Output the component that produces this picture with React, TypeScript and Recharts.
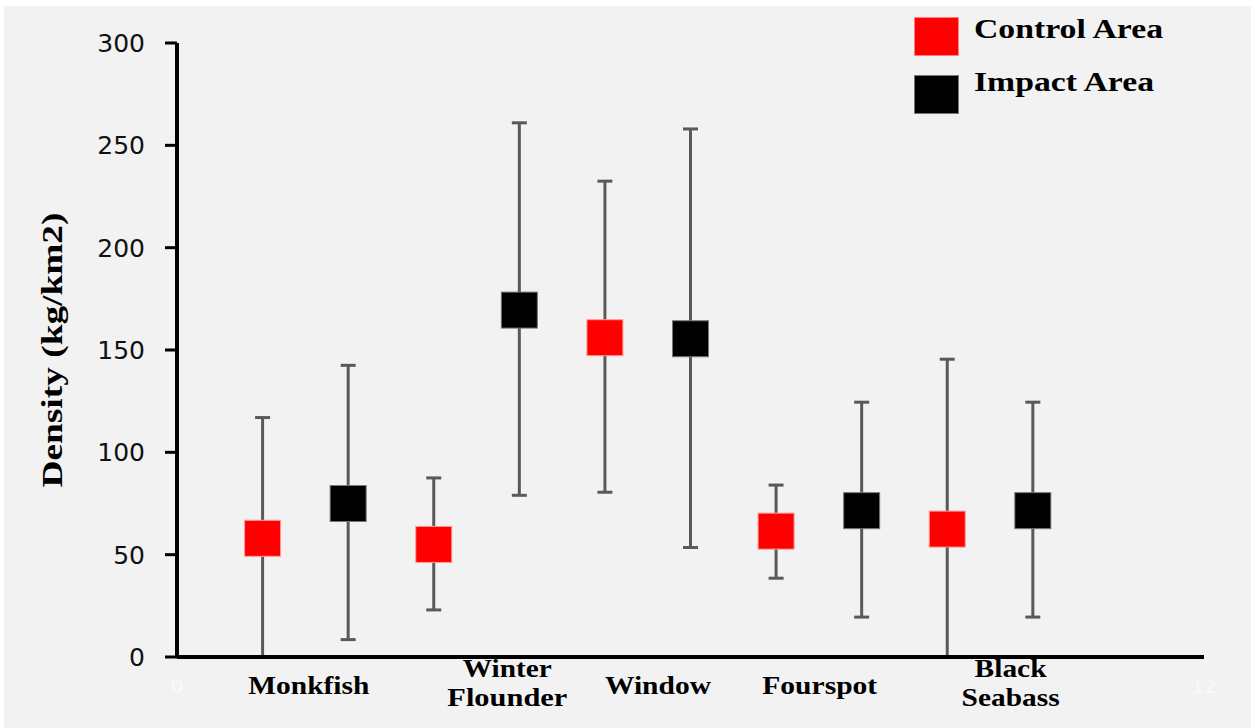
import React from "react";
import { ScatterChart, Scatter, XAxis, YAxis, ErrorBar, Legend } from "recharts";

const speciesLines = [["Monkfish"], ["Winter", "Flounder"], ["Window"], ["Fourspot"], ["Black", "Seabass"]];
const labelSlots = [1.54, 3.86, 5.62, 7.51, 9.74];

const controlX = [1, 3, 5, 7, 9];
const controlMean = [58, 55, 156, 61.5, 62.5];
const controlLow = [0, 23, 80.5, 38.5, 0];
const controlHigh = [117, 87.5, 232.5, 84, 145.5];

const impactX = [2, 4, 6, 8, 10];
const impactMean = [75, 169.5, 155.5, 71.5, 71.5];
const impactLow = [8.5, 79, 53.5, 19.5, 19.5];
const impactHigh = [142.5, 261, 258, 124.5, 124.5];

const yTicks = [0, 50, 100, 150, 200, 250, 300];
const xTicks = [0, 12];

// measured widths of the stretched serif words in the picture
const wordWidth: Record<string, number> = {
  Monkfish: 121,
  Winter: 89,
  Flounder: 120,
  Window: 106,
  Fourspot: 115,
  Black: 72,
  Seabass: 98,
};

const serif = "'Liberation Serif', 'Times New Roman', serif";

const makeRows = (xs: number[], mean: number[], low: number[], high: number[]) =>
  xs.map((x, i) => ({ x, y: mean[i], err: [mean[i] - low[i], high[i] - mean[i]] }));

const controlRows = makeRows(controlX, controlMean, controlLow, controlHigh);
const impactRows = makeRows(impactX, impactMean, impactLow, impactHigh);

const square = (fill: string, stroke: string) => (p: any) => (
  <rect x={p.cx - 18} y={p.cy - 18} width={36} height={36} fill={fill} stroke={stroke} strokeWidth={1} />
);

const SpeciesTick = (props: any) => {
  const { x, y, payload } = props;
  let idx = 0;
  labelSlots.forEach((s, i) => {
    if (Math.abs(s - payload.value) < Math.abs(labelSlots[idx] - payload.value)) idx = i;
  });
  const lines = speciesLines[idx];
  const offsets = lines.length === 1 ? [7] : [-10, 19];
  return (
    <g>
      {lines.map((w, i) => (
        <text
          key={w}
          x={x}
          y={y + offsets[i]}
          textAnchor="middle"
          fontFamily={serif}
          fontWeight="bold"
          fontSize={26}
          fill="#000"
          textLength={wordWidth[w]}
          lengthAdjust="spacingAndGlyphs"
        >
          {w}
        </text>
      ))}
    </g>
  );
};

const YLabel = (props: any) => {
  const vb = props.viewBox;
  const cx = vb.x + 15;
  const cy = vb.y + vb.height / 2;
  return (
    <text
      x={cx}
      y={cy}
      transform={`rotate(-90 ${cx} ${cy})`}
      textAnchor="middle"
      dominantBaseline="central"
      fontFamily={serif}
      fontWeight="bold"
      fontSize={29}
      fill="#000"
      textLength={275}
      lengthAdjust="spacingAndGlyphs"
    >
      Density (kg/km2)
    </text>
  );
};

const LegendBox = (props: any) => {
  const items = props.payload || [];
  return (
    <div style={{ position: "relative", width: 351, height: 130 }}>
      {items.map((it: any, i: number) => (
        <div key={it.value} style={{ position: "absolute", left: 14, top: 17 + i * 58 }}>
          <div
            style={{
              position: "absolute",
              left: 0,
              top: 0,
              width: 45,
              height: 39,
              background: it.color,
              boxSizing: "border-box",
              border: i === 0 ? "1px solid #ff8080" : "1px solid #777",
            }}
          />
          <svg style={{ position: "absolute", left: 55, top: -8 }} width={220} height={50}>
            <text
              x={5}
              y={29 + (i === 1 ? -5 : 0)}
              fontFamily={serif}
              fontWeight="bold"
              fontSize={28}
              fill="#000"
              textLength={i === 0 ? 189 : 180}
              lengthAdjust="spacingAndGlyphs"
            >
              {it.value}
            </text>
          </svg>
        </div>
      ))}
    </div>
  );
};

export default function App() {
  return (
    <div style={{ position: "absolute", left: 0, top: 0, width: 1251, height: 728, background: "#fff" }}>
      <div style={{ position: "absolute", left: 4, top: 6, right: 0, bottom: 0, background: "#f2f2f2" }} />
      <div style={{ position: "absolute", left: 0, top: 0 }}>
        <ScatterChart width={1251} height={728} margin={{ top: 43, right: 47, bottom: 0, left: 37 }}>
          <XAxis
            xAxisId={0}
            dataKey="x"
            type="number"
            domain={[0, 12]}
            ticks={xTicks}
            height={30}
            axisLine={{ stroke: "#000", strokeWidth: 4 }}
            tickLine={false}
            tickSize={0}
            tickMargin={22}
            tick={{ fill: "#f9f9f9", fontSize: 20, fontFamily: "DejaVu Sans" }}
          />
          <XAxis
            xAxisId="species"
            dataKey="x"
            type="number"
            domain={[0, 12]}
            allowDataOverflow
            ticks={labelSlots}
            height={41}
            axisLine={false}
            tickLine={false}
            tickSize={0}
            tickMargin={0}
            tick={<SpeciesTick />}
          />
          <YAxis
            type="number"
            dataKey="y"
            domain={[0, 300]}
            ticks={yTicks}
            width={140}
            axisLine={{ stroke: "#000", strokeWidth: 4 }}
            tickLine={{ stroke: "#000", strokeWidth: 3 }}
            tickSize={12}
            tickMargin={20}
            tick={{ fill: "#111", fontSize: 25, fontFamily: "DejaVu Sans" }}
            label={<YLabel />}
          />
          <Legend
            layout="vertical"
            align="center"
            verticalAlign="middle"
            wrapperStyle={{ top: 0, left: 900, width: 351, height: 130 }}
            content={<LegendBox />}
          />
          <Scatter name="Control Area" data={controlRows} fill="#ff0000" shape={square("#ff0000", "#ff9a9a")} isAnimationActive={false}>
            <ErrorBar dataKey="err" direction="y" width={7.5} stroke="#595959" strokeWidth={3} isAnimationActive={false} />
          </Scatter>
          <Scatter name="Impact Area" data={impactRows} fill="#000000" shape={square("#000000", "#777")} isAnimationActive={false}>
            <ErrorBar dataKey="err" direction="y" width={7.5} stroke="#595959" strokeWidth={3} isAnimationActive={false} />
          </Scatter>
        </ScatterChart>
      </div>
    </div>
  );
}
